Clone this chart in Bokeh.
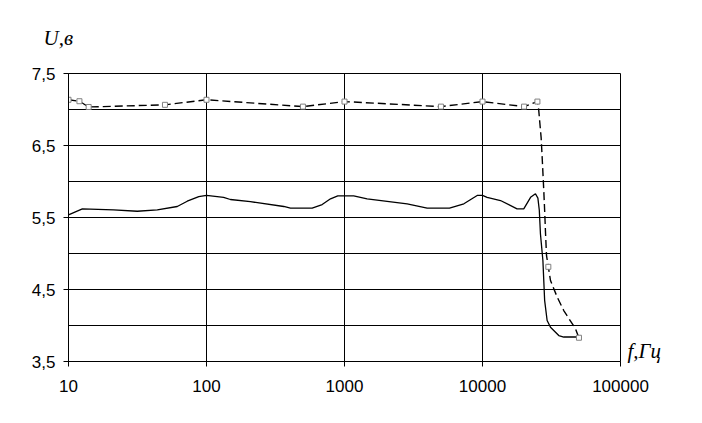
import json
from bokeh.plotting import figure
from bokeh.models import FixedTicker, CustomJSTickFormatter, LinearAxis
from bokeh.embed import file_html
from bokeh.resources import INLINE

# Frequency ticks (Hz) and voltage ticks (V)
x_ticks = [10, 100, 1000, 10000, 100000]
y_ticks = [3.5, 4.5, 5.5, 6.5, 7.5]
y_grid = [4.0, 4.5, 5.0, 5.5, 6.0, 6.5, 7.0, 7.5]

# Dashed curve (upper)
dash_f = [10, 12, 14, 50, 100, 500, 1000, 5000, 10000, 20000, 25000, 25500, 26600,
          27200, 27800, 28200, 28600, 29100, 30000, 31100, 34800, 38800, 47200, 50000]
dash_u = [7.135, 7.115, 7.035, 7.065, 7.135, 7.04, 7.11, 7.04, 7.11, 7.04, 7.11, 7.01, 6.61,
          6.25, 5.875, 5.6, 5.3, 4.97, 4.815, 4.625, 4.393, 4.208, 3.954, 3.83]

# Measured points (markers)
mark_f = [10, 12, 14, 50, 100, 500, 1000, 5000, 10000, 20000, 25000, 30000, 50000]
mark_u = [7.135, 7.115, 7.035, 7.065, 7.135, 7.04, 7.11, 7.04, 7.11, 7.04, 7.11, 4.815, 3.83]

# Solid curve (lower)
solid_f = [10, 12.6, 21.2, 31.5, 44, 61.4, 72.5, 87.9, 100, 133, 149, 208, 363, 406, 583,
           689, 792, 894, 1166, 1459, 2844, 3972, 5766, 7328, 9150, 10000, 10800, 13500,
           17800, 19900, 22300, 24200, 25200, 25800, 26300, 27400, 28200, 29400, 31100,
           35700, 38800, 48500, 50000]
solid_u = [5.537, 5.62, 5.607, 5.587, 5.607, 5.653, 5.726, 5.79, 5.806, 5.78, 5.75, 5.72,
           5.653, 5.63, 5.63, 5.68, 5.76, 5.80, 5.80, 5.76, 5.69, 5.63, 5.63, 5.69, 5.806,
           5.806, 5.78, 5.736, 5.62, 5.62, 5.78, 5.83, 5.77, 5.6, 5.27, 4.90, 4.35, 4.07,
           3.976, 3.86, 3.84, 3.84, 3.83]

y_title = "U,в"
x_title = "f,Гц"
x_title_level = [3.64]

p = figure(width=700, height=421, x_axis_type="log", x_range=(10, 100000),
           y_range=(3.5, 7.5), output_backend="svg", toolbar_location=None,
           frame_width=552, frame_height=288,
           min_border_left=68, min_border_right=80, min_border_top=73, min_border_bottom=60)
p.background_fill_color = "white"
p.border_fill_color = "white"
p.outline_line_color = "black"
p.outline_line_width = 1

p.xaxis.ticker = FixedTicker(ticks=x_ticks)
p.yaxis.ticker = FixedTicker(ticks=y_ticks)
p.xgrid.ticker = FixedTicker(ticks=x_ticks)
p.ygrid.ticker = FixedTicker(ticks=y_grid)
for g in (p.xgrid, p.ygrid):
    g.grid_line_color = "black"
    g.grid_line_width = 1
    g.grid_line_alpha = 1

p.xaxis.formatter = CustomJSTickFormatter(code="return tick.toFixed(0);")
p.yaxis.formatter = CustomJSTickFormatter(code="return tick.toFixed(1).replace('.', ',');")

for ax in (p.xaxis, p.yaxis):
    ax.axis_line_color = "black"
    ax.axis_line_width = 1
    ax.major_tick_line_color = "black"
    ax.major_tick_out = 5
    ax.major_tick_in = 0
    ax.minor_tick_line_color = None
    ax.major_label_text_font = "Liberation Sans"
    ax.major_label_text_font_size = "17px"
    ax.major_label_text_color = "black"
p.xaxis.major_label_standoff = 13
p.yaxis.major_label_standoff = 8

# x-axis title at the right of the frame, as a label of a tick-less right axis
xt_axis = LinearAxis(ticker=FixedTicker(ticks=x_title_level),
                     formatter=CustomJSTickFormatter(code="return %s;" % json.dumps(x_title)))
xt_axis.axis_line_color = None
xt_axis.major_tick_line_color = None
xt_axis.minor_tick_line_color = None
xt_axis.major_tick_out = 0
xt_axis.major_tick_in = 0
xt_axis.major_label_standoff = 7
xt_axis.major_label_text_font = "Liberation Serif"
xt_axis.major_label_text_font_style = "italic"
xt_axis.major_label_text_font_size = "21px"
xt_axis.major_label_text_color = "black"
p.add_layout(xt_axis, "right")

# y-axis title above the frame
p.title.text = y_title
p.title.align = "left"
p.title.vertical_align = "top"
p.title.offset = -25
p.title.standoff = 44
p.title.text_font = "Liberation Serif"
p.title.text_font_style = "italic"
p.title.text_font_size = "21px"
p.title.text_color = "black"

p.line(solid_f, solid_u, line_color="black", line_width=1.3)
p.line(dash_f, dash_u, line_color="black", line_width=1.4, line_dash="8 4")
p.scatter(mark_f, mark_u, marker="square", size=5, line_color="#808080",
          fill_color="white", line_width=1)

open("out.html", "w").write(file_html(p, INLINE))
